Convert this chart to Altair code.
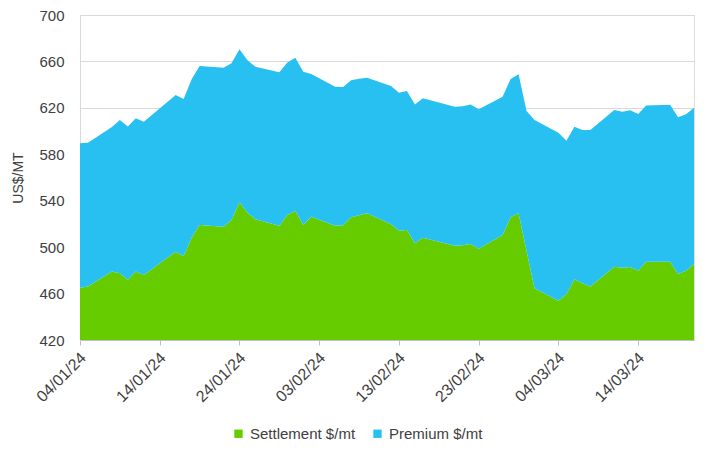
import altair as alt
import pandas as pd

dates = [
    "2024-01-04", "2024-01-05", "2024-01-08", "2024-01-09", "2024-01-10", "2024-01-11", "2024-01-12",
    "2024-01-16", "2024-01-17", "2024-01-18", "2024-01-19", "2024-01-22", "2024-01-23", "2024-01-24",
    "2024-01-25", "2024-01-26", "2024-01-29", "2024-01-30", "2024-01-31", "2024-02-01", "2024-02-02",
    "2024-02-05", "2024-02-06", "2024-02-07", "2024-02-08", "2024-02-09", "2024-02-12", "2024-02-13",
    "2024-02-14", "2024-02-15", "2024-02-16", "2024-02-20", "2024-02-21", "2024-02-22", "2024-02-23",
    "2024-02-26", "2024-02-27", "2024-02-28", "2024-02-29", "2024-03-01", "2024-03-04", "2024-03-05",
    "2024-03-06", "2024-03-07", "2024-03-08", "2024-03-11", "2024-03-12", "2024-03-13", "2024-03-14",
    "2024-03-15", "2024-03-18", "2024-03-19", "2024-03-20", "2024-03-21",
]

settlement = [
    465, 466, 479, 477.5, 472, 479, 476,
    496, 492.4, 508, 519, 517.6, 523.4, 538.6,
    529.7, 524, 518.5, 527.7, 531.4, 519, 526.2,
    518.5, 518.8, 525.7, 527.5, 529.2, 519.7, 514.2,
    514.8, 503.3, 508.1, 501.2, 501.6, 502.7, 498.7,
    510.5, 525.7, 529.2, 496.8, 464.5, 453.9, 459.4,
    472.3, 469, 466, 483.2, 482.3, 483, 479.7,
    487.5, 487.5, 476.9, 479.7, 485.5,
]

premium = [
    124.5, 124, 124.5, 132, 132, 132, 132,
    135, 135.2, 136.6, 137, 137, 135, 131.8,
    131.3, 131.5, 132.1, 131.3, 131.8, 132.2, 123,
    119.7, 119.2, 118, 117.5, 116.8, 119.1, 118.8,
    119.7, 119.7, 120.1, 119.8, 119.7, 120.3, 120.1,
    119.1, 119.2, 119.7, 120.5, 145, 144.7, 132.3,
    131.5, 132, 135, 135, 134.4, 135, 135,
    134.5, 135.2, 135.1, 134.8, 134.5,
]

series_names = ["Settlement $/mt", "Premium $/mt"]
series_colors = ["#66CC00", "#28C0F0"]
tick_dates = ["2024-01-04", "2024-01-14", "2024-01-24", "2024-02-03",
              "2024-02-13", "2024-02-23", "2024-03-04", "2024-03-14"]
y_ticks = [420, 460, 500, 540, 580, 620, 660, 700]

rows = []
for d, s, p in zip(dates, settlement, premium):
    rows.append({"date": d, "series": series_names[0], "value": s, "ord": 0})
    rows.append({"date": d, "series": series_names[1], "value": p, "ord": 1})
df = pd.DataFrame(rows)

def dt(s):
    y, m, d = s.split("-")
    return alt.DateTime(year=int(y), month=int(m), date=int(d), utc=True)

FONT = "Liberation Sans"

chart = alt.Chart(df).mark_area(clip=True, opacity=1).encode(
    x=alt.X(
        "date:T",
        scale=alt.Scale(type="utc", domain=[dt(dates[0]), dt(dates[-1])]),
        axis=alt.Axis(
            title=None,
            values=[dt(t) for t in tick_dates],
            labelExpr="utcFormat(datum.value, '%d/%m/%y')",
            labelAngle=315,
            labelAlign="right",
            labelBaseline="middle",
            labelPadding=10,
            labelOffset=3,
            labelFontSize=16,
            labelColor="#404040",
            labelFont=FONT,
            tickSize=5,
            tickColor="#bfbfbf",
            domainColor="#bfbfbf",
            grid=False,
            labelOverlap=False,
        ),
    ),
    y=alt.Y(
        "value:Q",
        stack="zero",
        scale=alt.Scale(domain=[420, 700], zero=False, nice=False),
        axis=alt.Axis(
            title="US$/MT",
            values=y_ticks,
            titleFont=FONT,
            titleFontSize=14,
            titleFontWeight="normal",
            titleColor="#404040",
            titlePadding=13,
            labelFont=FONT,
            labelFontSize=15,
            labelColor="#404040",
            labelPadding=16,
            tickSize=0,
            domainColor="#d9d9d9",
            gridColor="#d9d9d9",
            gridWidth=1,
        ),
    ),
    color=alt.Color(
        "series:N",
        scale=alt.Scale(domain=series_names, range=series_colors),
        legend=alt.Legend(
            title=None,
            orient="none",
            direction="horizontal",
            legendX=151,
            legendY=411,
            symbolType="square",
            symbolSize=70,
            symbolStrokeWidth=0,
            labelFont=FONT,
            labelFontSize=15,
            labelColor="#404040",
            columnPadding=14,
            labelOffset=4,
        ),
    ),
    order=alt.Order("ord:Q", sort="ascending"),
).properties(
    width=614,
    height=325,
    autosize=alt.AutoSizeParams(type="none"),
    padding={"left": 80, "top": 15, "right": 26, "bottom": 112},
).configure_view(stroke=None).configure(background="white")

chart.save("out.html", embed_options={"renderer": "svg", "actions": False})
